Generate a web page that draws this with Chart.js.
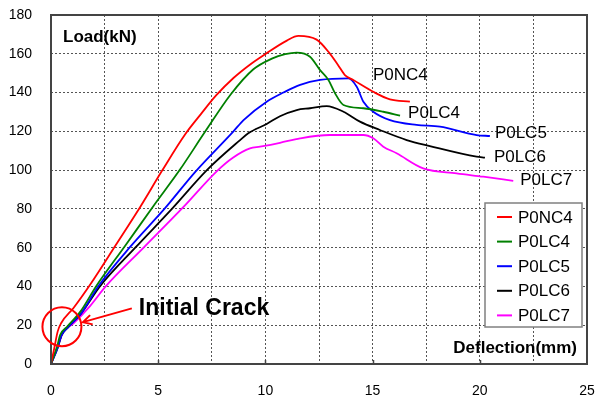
<!DOCTYPE html>
<html>
<head>
<meta charset="utf-8">
<script src="https://cdn.jsdelivr.net/npm/chart.js@4"></script>
<style>
  body { margin: 0; background: #fff; }
</style>
</head>
<body>
<canvas id="chart" width="595" height="399"></canvas>
<script>
// Load-deflection curves for the five beam specimens

const seriesNames = ['P0NC4', 'P0LC4', 'P0LC5', 'P0LC6', 'P0LC7'];
const seriesColors = ['#ff0000', '#008000', '#0000ff', '#000000', '#ff00ff'];

const p0nc4X = [0, 0.15, 0.31, 0.47, 1.05, 1.83, 3.0, 4.16, 5.17, 6.26, 7.0, 7.7, 8.51, 9.29, 9.99, 11.0, 11.54, 12.39, 13.0, 13.4, 13.72, 14.1, 15.03, 15.81, 16.74];
const p0nc4Y = [0, 8, 16.7, 21, 28.9, 41, 61, 81, 99.5, 118.5, 129, 138.5, 147.5, 154.5, 159.8, 166.8, 169.2, 167.3, 160.2, 154, 148.9, 146.5, 140.4, 136.5, 135.3];

const p0lc4X = [0, 0.28, 0.43, 0.75, 1.37, 2.1, 3.46, 4.78, 6.0, 7.2, 8.38, 9.44, 10.3, 10.92, 11.46, 12.08, 12.55, 12.94, 13.25, 13.64, 14.57, 15.5, 16.28];
const p0lc4Y = [0, 8.9, 15, 19.2, 27, 40, 61, 81.5, 100, 120, 139, 152, 157.5, 159.8, 160.6, 158.5, 151.6, 146.5, 139.6, 133.6, 131.9, 130.1, 128.1];

const p0lc5X = [0, 0.3, 0.5, 0.8, 1.4, 2.2, 3.7, 5.33, 6.72, 8.51, 8.98, 10.06, 10.84, 11.62, 12.55, 13.87, 14.26, 14.57, 15.03, 15.81, 17.05, 18.14, 19.85, 20.47];
const p0lc5Y = [0, 8, 15, 19, 26, 40, 60.5, 80.5, 99, 120, 125.8, 135.3, 140, 144, 146.5, 147.3, 143, 135.3, 130.1, 125.8, 123.3, 122.4, 118.1, 117.6];

const p0lc6X = [0, 0.3, 0.5, 0.8, 1.4, 2.28, 3.93, 5.64, 7.27, 8.82, 9.2, 10.06, 10.68, 11.46, 12.08, 12.86, 13.64, 14.41, 15.34, 16.59, 17.67, 19.85, 20.24];
const p0lc6Y = [0, 8, 15, 19, 26, 40, 60, 80, 100, 115.5, 119, 123.8, 127.8, 131, 131.9, 133, 130.1, 125, 120.7, 115.5, 112.4, 106.9, 106.4];

const p0lc7X = [0, 0.36, 0.59, 1.05, 1.83, 2.55, 4.32, 6.18, 7.74, 8.5, 9.28, 9.75, 10.68, 11.62, 13.0, 14.57, 15.03, 15.5, 16.12, 17.36, 18.92, 20.16, 21.56];
const p0lc7Y = [0, 10.7, 16.7, 21, 30, 40, 60, 81, 99.5, 106.5, 111.2, 112.1, 114.1, 116.4, 118.1, 118.1, 116.4, 112.1, 108.7, 100.9, 98.3, 96.6, 94.5];

const seriesX = [p0nc4X, p0lc4X, p0lc5X, p0lc6X, p0lc7X];
const seriesY = [p0nc4Y, p0lc4Y, p0lc5Y, p0lc6Y, p0lc7Y];

// pixel nudges for the name written at the end of each curve
const endLabelShift = [[-37, -26], [8, -2], [5, -3], [9, 0], [7, 0]];

// initial crack marker (data units)
const crackCenter = [0.51, 19.2];
const arrowTip = [1.49, 21.6];
const arrowTail = [3.77, 28.7];
const crackText = 'Initial Crack';

const FONT = '"Liberation Sans", Arial, sans-serif';

const datasets = seriesNames.map((name, i) => ({
  label: name,
  data: seriesX[i].map((x, k) => ({ x: x, y: seriesY[i][k] })),
  borderColor: seriesColors[i],
  backgroundColor: seriesColors[i],
  borderWidth: 1.8,
  pointRadius: 0,
  cubicInterpolationMode: 'monotone',
  fill: false
}));

const decorations = {
  id: 'decorations',
  afterDraw(chart) {
    const ctx = chart.ctx;
    const area = chart.chartArea;
    const xs = chart.scales.x;
    const ys = chart.scales.y;
    ctx.save();

    // small inner tick marks on the deflection axis
    ctx.strokeStyle = '#444';
    ctx.lineWidth = 1.5;
    [5, 10, 15, 20].forEach(v => {
      const px = Math.round(xs.getPixelForValue(v)) + 0.5;
      ctx.beginPath();
      ctx.moveTo(px, area.bottom);
      ctx.lineTo(px, area.bottom - 4);
      ctx.stroke();
    });

    // plot frame
    ctx.strokeStyle = '#444';
    ctx.lineWidth = 2;
    ctx.strokeRect(area.left, area.top, area.right - area.left, area.bottom - area.top);

    // axis titles inside the frame
    ctx.fillStyle = '#000';
    ctx.font = 'bold 17px ' + FONT;
    ctx.textBaseline = 'middle';
    ctx.textAlign = 'left';
    ctx.fillText('Load(kN)', area.left + 12, area.top + 22);
    ctx.textAlign = 'right';
    ctx.fillText('Deflection(mm)', area.right - 10, area.bottom - 16);

    // curve names at the curve ends
    ctx.font = '17px ' + FONT;
    ctx.textAlign = 'left';
    seriesNames.forEach((name, i) => {
      const n = seriesX[i].length - 1;
      const px = xs.getPixelForValue(seriesX[i][n]) + endLabelShift[i][0];
      const py = ys.getPixelForValue(seriesY[i][n]) + endLabelShift[i][1];
      ctx.fillText(name, px, py);
    });

    // legend box
    const lx = 485, ly = 203, lw = 97, lh = 124;
    ctx.fillStyle = '#fff';
    ctx.fillRect(lx, ly, lw, lh);
    ctx.strokeStyle = '#808080';
    ctx.lineWidth = 1.5;
    ctx.strokeRect(lx, ly, lw, lh);
    seriesNames.forEach((name, i) => {
      const rowY = ly + 14 + i * 24.6;
      ctx.strokeStyle = seriesColors[i];
      ctx.lineWidth = 2;
      ctx.beginPath();
      ctx.moveTo(lx + 12, rowY);
      ctx.lineTo(lx + 27, rowY);
      ctx.stroke();
      ctx.fillStyle = '#000';
      ctx.fillText(name, lx + 33, rowY + 1);
    });

    // initial crack circle, arrow and note
    const cx = xs.getPixelForValue(crackCenter[0]);
    const cy = ys.getPixelForValue(crackCenter[1]);
    ctx.strokeStyle = '#ff0000';
    ctx.lineWidth = 2;
    ctx.beginPath();
    ctx.arc(cx, cy, 19.5, 0, Math.PI * 2);
    ctx.stroke();

    const tx = xs.getPixelForValue(arrowTip[0]);
    const ty = ys.getPixelForValue(arrowTip[1]);
    const sx = xs.getPixelForValue(arrowTail[0]);
    const sy = ys.getPixelForValue(arrowTail[1]);
    const ang = Math.atan2(ty - sy, tx - sx);
    ctx.beginPath();
    ctx.moveTo(sx, sy);
    ctx.lineTo(tx, ty);
    ctx.moveTo(tx - 10 * Math.cos(ang - 0.5), ty - 10 * Math.sin(ang - 0.5));
    ctx.lineTo(tx, ty);
    ctx.lineTo(tx - 10 * Math.cos(ang + 0.5), ty - 10 * Math.sin(ang + 0.5));
    ctx.stroke();

    ctx.fillStyle = '#000';
    ctx.font = 'bold 23px ' + FONT;
    ctx.textAlign = 'left';
    ctx.fillText(crackText, sx + 7, sy);

    ctx.restore();
  }
};

// tick spacing comes from invisible tick marks so the label padding
// does not push the plot area inwards
new Chart(document.getElementById('chart'), {
  type: 'line',
  data: { datasets: datasets },
  options: {
    responsive: false,
    animation: false,
    devicePixelRatio: 1,
    layout: { padding: { left: 0, right: 8, top: 15, bottom: 0 } },
    plugins: {
      legend: { display: false },
      tooltip: { enabled: false }
    },
    scales: {
      x: {
        type: 'linear',
        min: 0,
        max: 25,
        afterFit: (scale) => { scale.height = 35; },
        ticks: {
          stepSize: 2.5,
          autoSkip: false,
          maxRotation: 0,
          padding: 0,
          color: '#000',
          font: { family: FONT, size: 14 },
          callback: (v) => (v % 5 === 0 ? v : '')
        },
        grid: { color: '#555', lineWidth: 1, drawTicks: true, tickLength: 19, tickColor: 'rgba(0,0,0,0)' },
        border: { display: false, dash: [2, 2] }
      },
      y: {
        type: 'linear',
        min: 0,
        max: 180,
        afterFit: (scale) => { scale.width = 51; },
        ticks: {
          stepSize: 20,
          padding: 0,
          color: '#000',
          font: { family: FONT, size: 14 }
        },
        grid: { color: '#555', lineWidth: 1, drawTicks: true, tickLength: 19, tickColor: 'rgba(0,0,0,0)' },
        border: { display: false, dash: [2, 2] }
      }
    }
  },
  plugins: [decorations]
});
</script>
</body>
</html>
